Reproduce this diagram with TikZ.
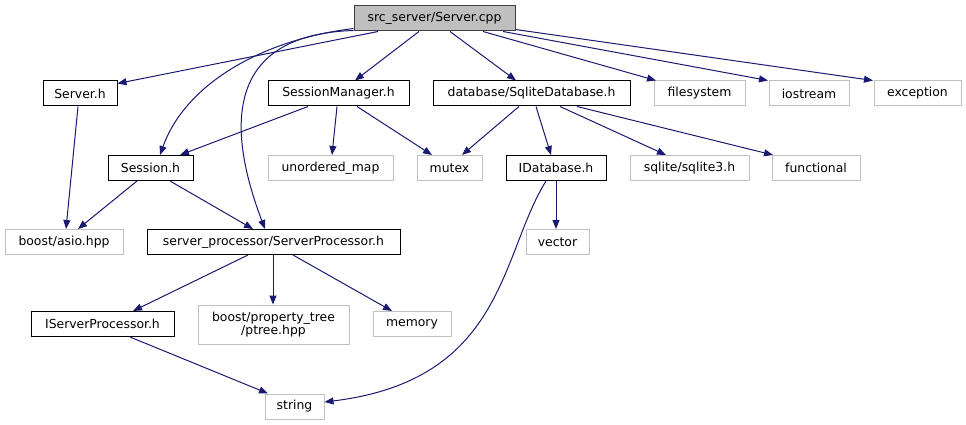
\documentclass[tikz,border=0pt]{standalone}
\usepackage{fontspec}
\setmainfont{DejaVu Sans}
\usetikzlibrary{arrows.meta}
\definecolor{edgeblue}{RGB}{25,25,112}
\definecolor{extgray}{RGB}{191,191,191}
\definecolor{rootfill}{RGB}{191,191,191}
\definecolor{rootline}{RGB}{64,64,64}
\tikzset{
  box/.style={rectangle, inner sep=0pt, minimum height=25pt, font=\fontsize{12.4pt}{13.6pt}\selectfont, align=center, line width=1pt},
  intbox/.style={box, draw=black, fill=white},
  extbox/.style={box, draw=extgray, fill=white},
  rootbox/.style={box, draw=rootline, fill=rootfill},
  edge/.style={draw=edgeblue, line width=1pt, -{Triangle[length=9pt,width=7pt,fill=edgeblue]}},
}
\begin{document}
\begin{tikzpicture}[x=1pt,y=-1pt]
\useasboundingbox (0,0) rectangle (966,425);
% nodes
\node[rootbox, minimum width=161pt] (cpp) at (434.5,18.5) {src\_server/Server.cpp};
\node[intbox, minimum width=74pt] (serverh) at (80,93.5) {Server.h};
\node[intbox, minimum width=141pt] (smgr) at (338.5,93.5) {SessionManager.h};
\node[intbox, minimum width=197pt] (sqlite) at (531.5,93.5) {database/SqliteDatabase.h};
\node[extbox, minimum width=91pt] (fs) at (699.5,93.5) {filesystem};
\node[extbox, minimum width=80pt] (ios) at (809,93.5) {iostream};
\node[extbox, minimum width=87pt] (exc) at (917.5,93.5) {exception};
\node[intbox, minimum width=85pt] (sess) at (150.5,168) {Session.h};
\node[extbox, minimum width=125pt] (umap) at (330.5,168) {unordered\_map};
\node[extbox, minimum width=65pt] (mutex) at (449.5,168) {mutex};
\node[intbox, minimum width=100pt] (idb) at (556,168) {IDatabase.h};
\node[extbox, minimum width=119pt] (sq3) at (689.5,168) {sqlite/sqlite3.h};
\node[extbox, minimum width=88pt] (func) at (816,168) {functional};
\node[extbox, minimum width=118pt] (asio) at (64,242) {boost/asio.hpp};
\node[intbox, minimum width=253pt] (sp) at (273.5,242) {server\_processor/ServerProcessor.h};
\node[extbox, minimum width=63pt] (vec) at (557.5,242) {vector};
\node[intbox, minimum width=143pt] (isp) at (102.5,324) {IServerProcessor.h};
\node[extbox, minimum width=151pt, minimum height=39pt] (ptree) at (273.5,324.5) {boost/property\_tree\\/ptree.hpp};
\node[extbox, minimum width=78pt] (mem) at (412,324) {memory};
\node[extbox, minimum width=59pt] (str) at (294.5,406.5) {string};
% edges from Server.cpp
\draw[edge] ([xshift=-56.5pt]cpp.south) -- ([yshift=-3pt]serverh.north east);
\draw[edge] ([yshift=3pt]cpp.south west) .. controls (260,40) and (185,85) .. ([xshift=9.5pt]sess.north);
\draw[edge] ([yshift=1pt]cpp.south west) .. controls (210,35) and (235,150) .. ([xshift=-8.5pt]sp.north);
\draw[edge] ([xshift=-15.5pt]cpp.south) -- ([xshift=16.5pt]smgr.north);
\draw[edge] ([xshift=15.5pt]cpp.south) -- ([xshift=-15.5pt]sqlite.north);
\draw[edge] ([xshift=48.5pt]cpp.south) -- ([xshift=-43.5pt]fs.north);
\draw[edge] ([xshift=68.5pt]cpp.south) -- ([xshift=-41pt]ios.north);
\draw[edge] ([yshift=2pt]cpp.south east) -- ([xshift=-44.5pt]exc.north);
% SessionManager.h
\draw[edge] ([xshift=-30.5pt]smgr.south) -- ([xshift=29.5pt]sess.north);
\draw[edge] ([xshift=-1.5pt]smgr.south) -- ([xshift=1.5pt]umap.north);
\draw[edge] ([xshift=18.5pt]smgr.south) -- ([xshift=-17.5pt]mutex.north);
% SqliteDatabase.h
\draw[edge] ([xshift=-12.5pt]sqlite.south) -- ([xshift=12.5pt]mutex.north);
\draw[edge] ([xshift=4.5pt]sqlite.south) -- ([xshift=-5pt]idb.north);
\draw[edge] ([xshift=28.5pt]sqlite.south) -- ([xshift=-23.5pt]sq3.north);
\draw[edge] ([xshift=45.5pt]sqlite.south) -- ([xshift=-43pt]func.north);
% Server.h, Session.h
\draw[edge] ([xshift=-2pt]serverh.south) -- ([xshift=2pt]asio.north);
\draw[edge] ([xshift=-13.5pt]sess.south) -- ([xshift=14pt]asio.north);
\draw[edge] ([xshift=19.5pt]sess.south) -- ([xshift=-20.5pt]sp.north);
% IDatabase.h
\draw[edge] (idb.south) -- ([xshift=-1.5pt]vec.north);
\draw[edge] ([xshift=-10pt]idb.south) .. controls (500,255) and (505,380) .. ([yshift=4.5pt]str.east);
% ServerProcessor.h
\draw[edge] ([xshift=-25.5pt]sp.south) -- ([xshift=30.5pt]isp.north);
\draw[edge] ([xshift=-0.5pt]sp.south) -- ([xshift=-0.5pt]ptree.north);
\draw[edge] ([xshift=19.5pt]sp.south) -- ([xshift=-20pt]mem.north);
% IServerProcessor.h
\draw[edge] ([xshift=27.5pt]isp.south) -- ([xshift=-26.5pt]str.north);
\end{tikzpicture}
\end{document}
